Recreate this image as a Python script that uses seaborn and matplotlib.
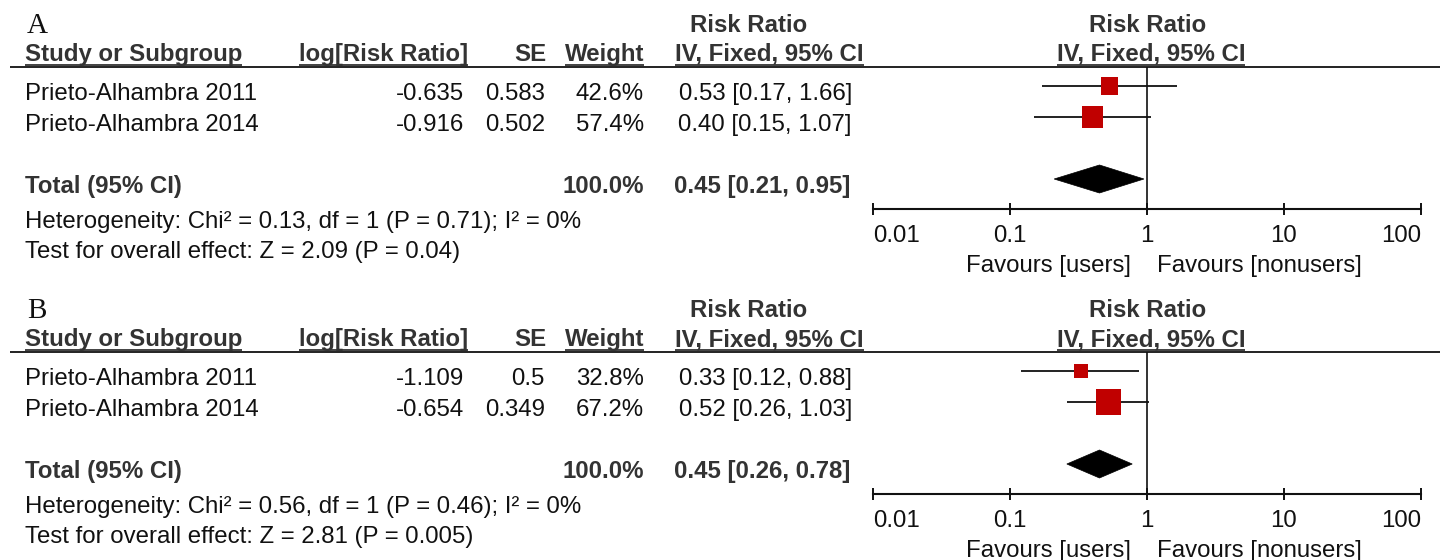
import matplotlib
matplotlib.use("Agg")
import matplotlib.pyplot as plt
from matplotlib.patches import Polygon
import seaborn as sns

# ---------------- data ----------------
panel_labels = ["A", "B"]
studies = ["Prieto-Alhambra 2011", "Prieto-Alhambra 2014"]

log_rr_A = [-0.635, -0.916]
se_A = [0.583, 0.502]
weight_A = [42.6, 57.4]
rr_A = [0.53, 0.40]
lo_A = [0.17, 0.15]
hi_A = [1.66, 1.07]
total_A = [0.45, 0.21, 0.95]
het_A = "Heterogeneity: Chi² = 0.13, df = 1 (P = 0.71); I² = 0%"
test_A = "Test for overall effect: Z = 2.09 (P = 0.04)"

log_rr_B = [-1.109, -0.654]
se_B = [0.5, 0.349]
weight_B = [32.8, 67.2]
rr_B = [0.33, 0.52]
lo_B = [0.12, 0.26]
hi_B = [0.88, 1.03]
total_B = [0.45, 0.26, 0.78]
het_B = "Heterogeneity: Chi² = 0.56, df = 1 (P = 0.46); I² = 0%"
test_B = "Test for overall effect: Z = 2.81 (P = 0.005)"

tick_vals = [0.01, 0.1, 1, 10, 100]
tick_labels = ["0.01", "0.1", "1", "10", "100"]
favours = ["Favours [users]", "Favours [nonusers]"]

panels = [
    dict(label=panel_labels[0], log_rr=log_rr_A, se=se_A, w=weight_A, rr=rr_A,
         lo=lo_A, hi=hi_A, tot=total_A, het=het_A, test=test_A),
    dict(label=panel_labels[1], log_rr=log_rr_B, se=se_B, w=weight_B, rr=rr_B,
         lo=lo_B, hi=hi_B, tot=total_B, het=het_B, test=test_B),
]

# ---------------- style ----------------
sns.set_theme(style="white")
plt.rcParams["font.family"] = ["Liberation Sans", "DejaVu Sans"]

W, H = 1445, 560
DPI = 100
FS = 17.3
HDR = "#333333"
TXT = "#111111"
RED = "#C00000"

fig = plt.figure(figsize=(W / DPI, H / DPI), dpi=DPI)
fig.patch.set_facecolor("white")
ax0 = fig.add_axes([0, 0, 1, 1])
ax0.set_xlim(0, W)
ax0.set_ylim(H, 0)
ax0.axis("off")
ax0.patch.set_alpha(0)

X0, X1 = 873, 1421          # pixel span of 0.01 .. 100

underlined = []


def txt(x, y, s, ha="left", bold=False, color=TXT, size=FS, family=None):
    kw = {}
    if family:
        kw["family"] = family
    return ax0.text(x, y, s, ha=ha, va="baseline", fontsize=size,
                    fontweight="bold" if bold else "normal", color=color, **kw)


for p_i, P in enumerate(panels):
    off = 285 * p_i
    # panel letter
    txt(27, 33 + off, P["label"], size=21, family=["Liberation Serif", "DejaVu Serif"])
    # headers
    txt(749, 32 + off, "Risk Ratio", ha="center", bold=True, color=HDR)
    txt(1148, 32 + off, "Risk Ratio", ha="center", bold=True, color=HDR)
    hy = 61 + off
    underlined.append((txt(25, hy, "Study or Subgroup", bold=True, color=HDR), off))
    underlined.append((txt(468, hy, "log[Risk Ratio]", ha="right", bold=True, color=HDR), off))
    txt(546, hy, "SE", ha="right", bold=True, color=HDR)
    underlined.append((txt(644, hy, "Weight", ha="right", bold=True, color=HDR), off))
    underlined.append((txt(675, hy, "IV, Fixed, 95% CI", bold=True, color=HDR), off))
    underlined.append((txt(1151, hy, "IV, Fixed, 95% CI", ha="center", bold=True, color=HDR), off))
    # header rule
    ax0.plot([10, 1440], [67 + off, 67 + off], color="#222222", lw=1.4,
             solid_capstyle="butt")

    # study rows
    row_base = [100 + off, 131 + off]
    for i, name in enumerate(studies):
        yb = row_base[i]
        txt(25, yb, name)
        txt(464, yb, f"{P['log_rr'][i]:g}", ha="right")
        txt(545, yb, f"{P['se'][i]:g}", ha="right")
        txt(644, yb, f"{P['w'][i]:.1f}%", ha="right")
        txt(852, yb, f"{P['rr'][i]:.2f} [{P['lo'][i]:.2f}, {P['hi'][i]:.2f}]", ha="right")
    tb = 193 + off
    txt(25, tb, "Total (95% CI)", bold=True, color=HDR)
    txt(644, tb, f"{sum(P['w']):.1f}%", ha="right", bold=True, color=HDR)
    e, l, h = P["tot"]
    txt(850, tb, f"{e:.2f} [{l:.2f}, {h:.2f}]", ha="right", bold=True, color=HDR)
    txt(25, 228 + off, P["het"])
    txt(25, 258 + off, P["test"])
    txt(1131, 272 + off, favours[0], ha="right")
    txt(1157, 272 + off, favours[1], ha="left")

    # ---- forest axes ----
    top, bot = 67 + off, 209 + off
    ax = fig.add_axes([X0 / W, (H - bot) / H, (X1 - X0) / W, (bot - top) / H])
    ax.patch.set_alpha(0)
    ax.set_xscale("log")
    ax.set_xlim(tick_vals[0], tick_vals[-1])
    ax.set_ylim(bot, top)
    for s in ["top", "left", "right"]:
        ax.spines[s].set_visible(False)
    ax.spines["bottom"].set_linewidth(1.5)
    ax.spines["bottom"].set_color("#111111")
    ax.set_yticks([])
    ax.set_xticks(tick_vals)
    ax.set_xticklabels(tick_labels)
    ax.minorticks_off()
    ax.tick_params(axis="x", which="major", direction="inout", length=9, width=1.4,
                   color="#111111", labelsize=FS, labelcolor=TXT, pad=7, bottom=True)
    labs = ax.get_xticklabels()
    labs[0].set_ha("left")
    labs[-1].set_ha("right")
    ax.axvline(1, color="#111111", lw=1.2, zorder=1)

    mark_y = [yb - 14 for yb in row_base]
    ax.hlines(mark_y, P["lo"], P["hi"], color="#111111", lw=1.3, zorder=2)
    side_pt = [(3.5 + 0.32 * w) * 72 / DPI for w in P["w"]]
    sns.scatterplot(x=P["rr"], y=mark_y, marker="s", s=[s_ ** 2 for s_ in side_pt],
                    color=RED, linewidth=0, ax=ax, zorder=3, legend=False)
    dy = tb - 14
    diamond = Polygon([(l, dy), (e, dy - 14), (h, dy), (e, dy + 14)], closed=True,
                      facecolor="black", edgecolor="black", lw=0.5, zorder=3)
    ax.add_patch(diamond)
    ax.set_xlabel("")
    ax.set_ylabel("")

# underlines under header text
fig.canvas.draw()
r = fig.canvas.get_renderer()
for t, off in underlined:
    bb = t.get_window_extent(r)
    ax0.plot([bb.x0, bb.x1], [64.5 + off, 64.5 + off], color=HDR, lw=1.3,
             solid_capstyle="butt")

fig.savefig("out.png", dpi=DPI)
